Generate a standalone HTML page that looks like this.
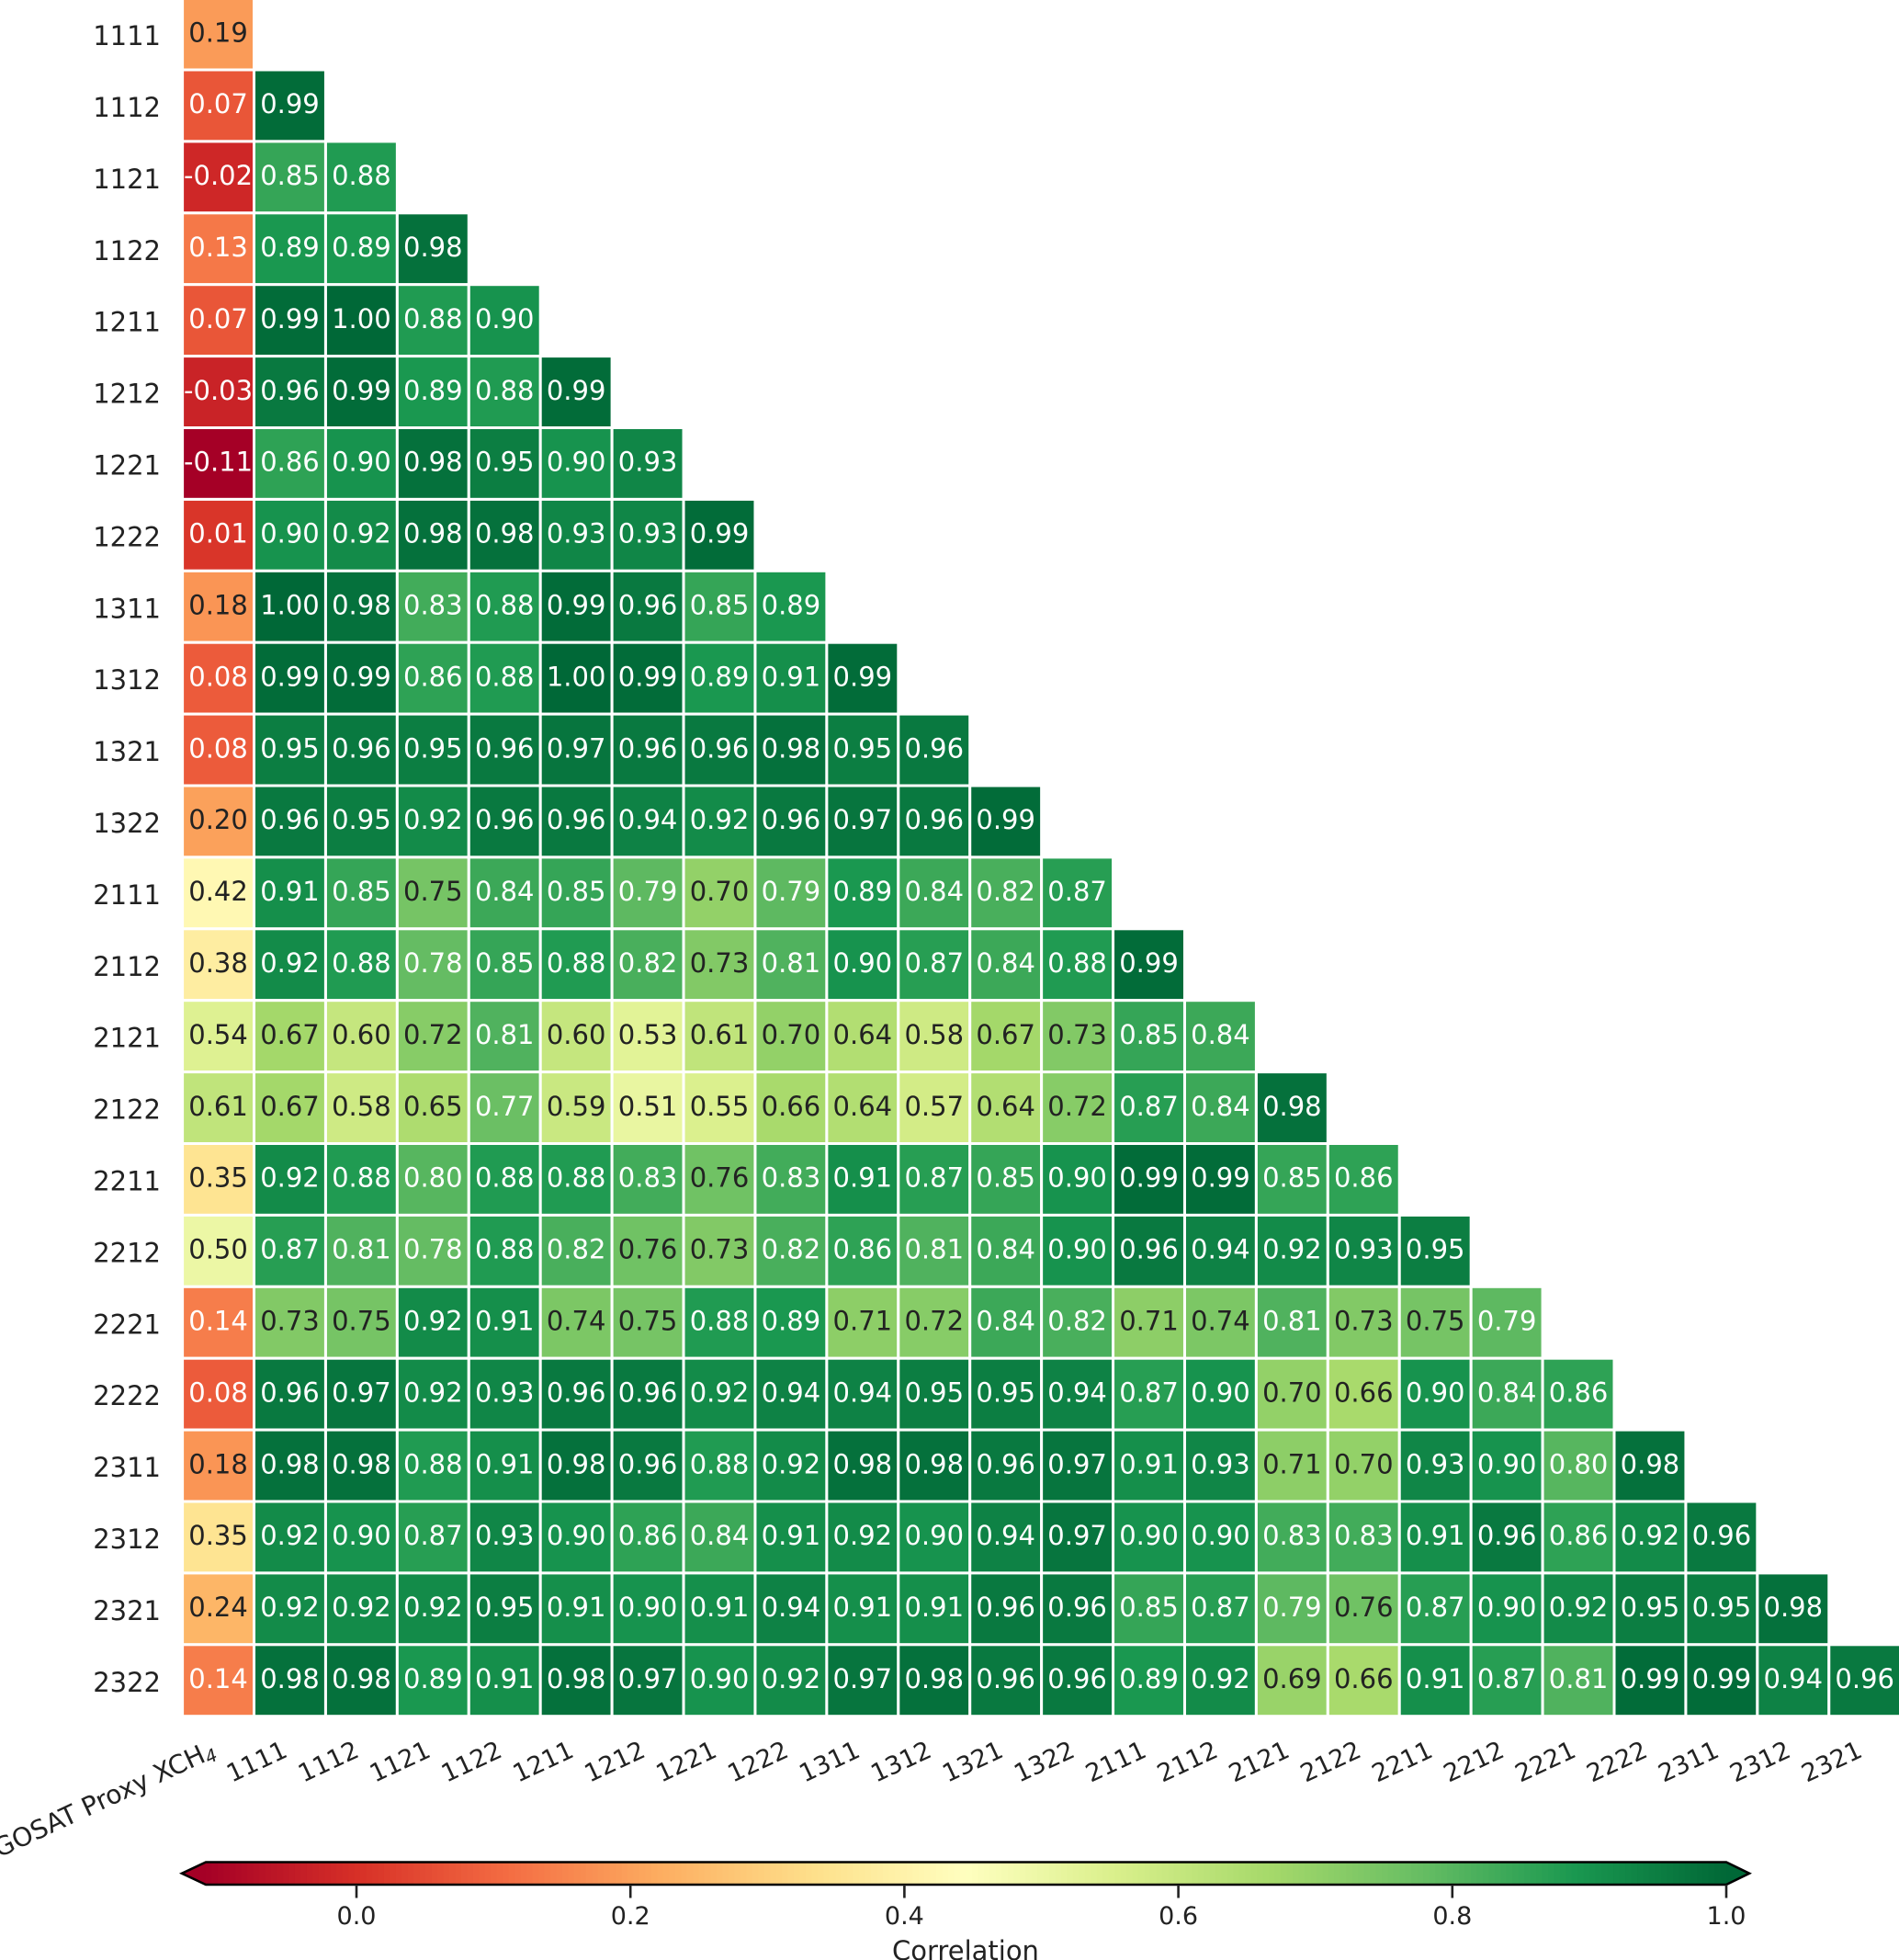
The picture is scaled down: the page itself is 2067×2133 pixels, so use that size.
<!DOCTYPE html>
<html lang="en">
<head>
<meta charset="utf-8">
<title>Correlation heatmap</title>
<style>
html,body{margin:0;padding:0;background:#fff;width:2067px;height:2133px;overflow:hidden}
svg{display:block;font-family:"DejaVu Sans","Liberation Sans",sans-serif}
</style>
</head>
<body>
<svg id="chart" xmlns="http://www.w3.org/2000/svg" width="2067" height="2133" viewBox="0 0 2067 2133">
<rect x="0" y="0" width="2067" height="2133" fill="#ffffff"/>
<g id="cells"></g>
<g id="annotations" font-size="29" text-anchor="middle"></g>
<g id="yLabels" font-size="29" text-anchor="end" fill="#222"></g>
<g id="xLabels" font-size="27" text-anchor="end" fill="#222"></g>
<g id="colorbar"></g>
<text x="1051" y="2133" font-size="29" text-anchor="middle" fill="#222">Correlation</text>
</svg>
<script>
const rowLabels = ["1111","1112","1121","1122","1211","1212","1221","1222","1311","1312","1321","1322","2111","2112","2121","2122","2211","2212","2221","2222","2311","2312","2321","2322"];
const colLabels = ["GOSAT Proxy XCH","1111","1112","1121","1122","1211","1212","1221","1222","1311","1312","1321","1322","2111","2112","2121","2122","2211","2212","2221","2222","2311","2312","2321"];
const correlations = [
[0.19],
[0.07,0.99],
[-0.02,0.85,0.88],
[0.13,0.89,0.89,0.98],
[0.07,0.99,1.00,0.88,0.90],
[-0.03,0.96,0.99,0.89,0.88,0.99],
[-0.11,0.86,0.90,0.98,0.95,0.90,0.93],
[0.01,0.90,0.92,0.98,0.98,0.93,0.93,0.99],
[0.18,1.00,0.98,0.83,0.88,0.99,0.96,0.85,0.89],
[0.08,0.99,0.99,0.86,0.88,1.00,0.99,0.89,0.91,0.99],
[0.08,0.95,0.96,0.95,0.96,0.97,0.96,0.96,0.98,0.95,0.96],
[0.20,0.96,0.95,0.92,0.96,0.96,0.94,0.92,0.96,0.97,0.96,0.99],
[0.42,0.91,0.85,0.75,0.84,0.85,0.79,0.70,0.79,0.89,0.84,0.82,0.87],
[0.38,0.92,0.88,0.78,0.85,0.88,0.82,0.73,0.81,0.90,0.87,0.84,0.88,0.99],
[0.54,0.67,0.60,0.72,0.81,0.60,0.53,0.61,0.70,0.64,0.58,0.67,0.73,0.85,0.84],
[0.61,0.67,0.58,0.65,0.77,0.59,0.51,0.55,0.66,0.64,0.57,0.64,0.72,0.87,0.84,0.98],
[0.35,0.92,0.88,0.80,0.88,0.88,0.83,0.76,0.83,0.91,0.87,0.85,0.90,0.99,0.99,0.85,0.86],
[0.50,0.87,0.81,0.78,0.88,0.82,0.76,0.73,0.82,0.86,0.81,0.84,0.90,0.96,0.94,0.92,0.93,0.95],
[0.14,0.73,0.75,0.92,0.91,0.74,0.75,0.88,0.89,0.71,0.72,0.84,0.82,0.71,0.74,0.81,0.73,0.75,0.79],
[0.08,0.96,0.97,0.92,0.93,0.96,0.96,0.92,0.94,0.94,0.95,0.95,0.94,0.87,0.90,0.70,0.66,0.90,0.84,0.86],
[0.18,0.98,0.98,0.88,0.91,0.98,0.96,0.88,0.92,0.98,0.98,0.96,0.97,0.91,0.93,0.71,0.70,0.93,0.90,0.80,0.98],
[0.35,0.92,0.90,0.87,0.93,0.90,0.86,0.84,0.91,0.92,0.90,0.94,0.97,0.90,0.90,0.83,0.83,0.91,0.96,0.86,0.92,0.96],
[0.24,0.92,0.92,0.92,0.95,0.91,0.90,0.91,0.94,0.91,0.91,0.96,0.96,0.85,0.87,0.79,0.76,0.87,0.90,0.92,0.95,0.95,0.98],
[0.14,0.98,0.98,0.89,0.91,0.98,0.97,0.90,0.92,0.97,0.98,0.96,0.96,0.89,0.92,0.69,0.66,0.91,0.87,0.81,0.99,0.99,0.94,0.96]
];
const colorbarTicks = [0.0,0.2,0.4,0.6,0.8,1.0];
const colorDomain = [-0.11,1.0];
const rdYlGn = ["#a50026","#d73027","#f46d43","#fdae61","#fee08b","#ffffbf","#d9ef8b","#a6d96a","#66bd63","#1a9850","#006837"];

const NS = "http://www.w3.org/2000/svg";
const X0 = 198.6, XSTEP = 77.92, Y0 = -1.9, YSTEP = 77.9;
const CB_LEFT = 224, CB_RIGHT = 1879, CB_TOP = 2026.5, CB_BOTTOM = 2051;
const CB_TIP_LEFT = 198, CB_TIP_RIGHT = 1904;

function xScale(i){ return X0 + XSTEP * i; }
function yScale(j){ return Y0 + YSTEP * j; }
function cbScale(v){ return CB_LEFT + (v - colorDomain[0]) / (colorDomain[1] - colorDomain[0]) * (CB_RIGHT - CB_LEFT); }
function hexRgb(h){ return [parseInt(h.slice(1,3),16),parseInt(h.slice(3,5),16),parseInt(h.slice(5,7),16)]; }
function colorRgb(v){
  let t = (v - colorDomain[0]) / (colorDomain[1] - colorDomain[0]);
  t = Math.max(0, Math.min(1, t)) * (rdYlGn.length - 1);
  const k = Math.min(rdYlGn.length - 2, Math.floor(t)), f = t - k;
  const a = hexRgb(rdYlGn[k]), b = hexRgb(rdYlGn[k + 1]);
  return a.map((c, n) => Math.round(c + (b[n] - c) * f));
}
function css(rgb){ return "rgb(" + rgb.join(",") + ")"; }
function luminance(rgb){
  const l = rgb.map(c => { c /= 255; return c <= 0.03928 ? c / 12.92 : Math.pow((c + 0.055) / 1.055, 2.4); });
  return 0.2126 * l[0] + 0.7152 * l[1] + 0.0722 * l[2];
}
function make(tag, attrs, parent){
  const el = document.createElementNS(NS, tag);
  for (const k in attrs) el.setAttribute(k, attrs[k]);
  parent.appendChild(el);
  return el;
}

const cellsG = document.getElementById("cells");
const annG = document.getElementById("annotations");
correlations.forEach((row, j) => {
  row.forEach((v, i) => {
    const rgb = colorRgb(v);
    const rect = make("rect", {x:xScale(i), y:yScale(j), width:XSTEP, height:YSTEP, fill:css(rgb), stroke:"#ffffff", "stroke-width":3}, cellsG);
    
    
    const t = make("text", {x:xScale(i + 0.5), y:yScale(j + 0.5) + 8.2, fill: luminance(rgb) > 0.418 ? "#222" : "#ffffff"}, annG);
    
    
    t.textContent = v.toFixed(2);
  });
});

const yG = document.getElementById("yLabels");
rowLabels.forEach((label, j) => {
  const t = make("text", {x:175, y:yScale(j + 0.5) + 12}, yG);
  
  
  t.textContent = label;
});

const xG = document.getElementById("xLabels");
colLabels.forEach((label, i) => {
  const px = xScale(i + 0.5) - 1, py = 1911;
  const t = make("text", {transform:"translate(" + px + " " + py + ") rotate(-25)"}, xG);
  
  
  t.textContent = label;
  if (i === 0) {
    t.setAttribute("font-size", "28.2");
    const sub = make("tspan", {"font-size":19.5, "font-style":"italic", dy:4}, t);
    
    
    sub.textContent = "4";
  }
});

const cb = document.getElementById("colorbar");
const cbMid = (CB_TOP + CB_BOTTOM) / 2;
const tipL = make("polygon", {points:CB_LEFT + "," + CB_TOP + " " + CB_TIP_LEFT + "," + cbMid + " " + CB_LEFT + "," + CB_BOTTOM, fill:rdYlGn[0]}, cb);


const tipR = make("polygon", {points:CB_RIGHT + "," + CB_TOP + " " + CB_TIP_RIGHT + "," + cbMid + " " + CB_RIGHT + "," + CB_BOTTOM, fill:rdYlGn[10]}, cb);


const LEVELS = 256;
for (let n = 0; n < LEVELS; n++) {
  const v0 = colorDomain[0] + (colorDomain[1] - colorDomain[0]) * n / LEVELS;
  const v1 = colorDomain[0] + (colorDomain[1] - colorDomain[0]) * (n + 1) / LEVELS;
  const seg = make("rect", {x:cbScale(v0), y:CB_TOP, width:cbScale(v1) - cbScale(v0) + 0.6, height:CB_BOTTOM - CB_TOP, fill:css(colorRgb((v0 + v1) / 2))}, cb);
  
  
}
const outline = make("polygon", {points:CB_LEFT + "," + CB_TOP + " " + CB_RIGHT + "," + CB_TOP + " " + CB_TIP_RIGHT + "," + cbMid + " " + CB_RIGHT + "," + CB_BOTTOM + " " + CB_LEFT + "," + CB_BOTTOM + " " + CB_TIP_LEFT + "," + cbMid, fill:"none", stroke:"#000", "stroke-width":2.6}, cb);


colorbarTicks.forEach(v => {
  const x = cbScale(v);
  const tick = make("line", {x1:x, x2:x, y1:CB_BOTTOM, y2:2065.5, stroke:"#222", "stroke-width":2.6}, cb);
  
  
  const t = make("text", {x:x, y:2094, "font-size":27, "text-anchor":"middle", fill:"#222"}, cb);
  
  
  t.textContent = v.toFixed(1);
});
</script>
</body>
</html>
